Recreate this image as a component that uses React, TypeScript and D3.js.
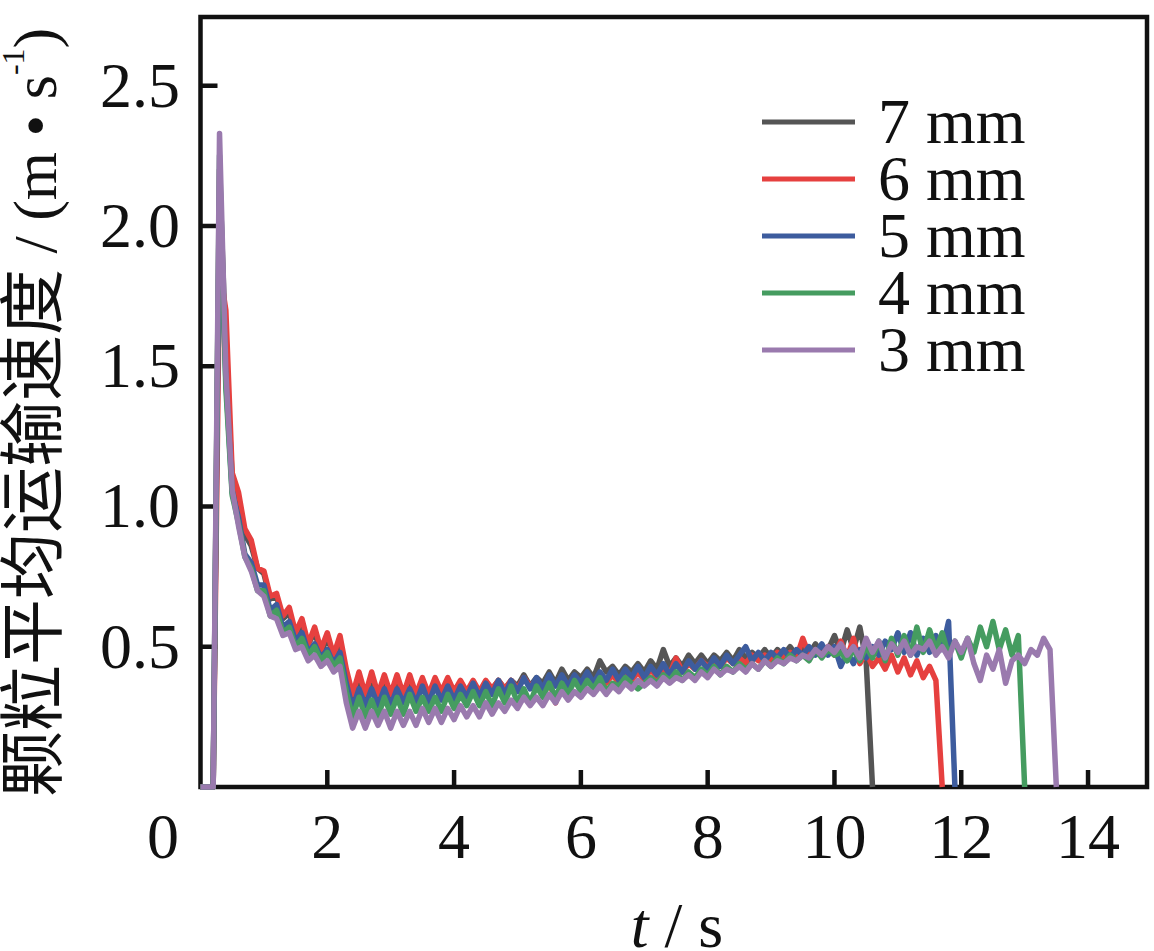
import * as d3 from 'd3'

const timeStep = 0.1

const seriesNames = ['7 mm', '6 mm', '5 mm', '4 mm', '3 mm']
const seriesColors = ['#555555', '#e6403f', '#3d5c9e', '#459c60', '#9a7aae']

// velocity (m/s) at t = 0, 0.1, 0.2, ...
const v7mm = [
  0, 0, 0, 2.2, 1.55, 1.1, 1.02, 0.9, 0.86, 0.78, 0.76, 0.67, 0.68, 0.6, 0.62, 0.55, 0.57, 0.51, 0.55, 0.48,
  0.53, 0.47, 0.52, 0.4, 0.32, 0.38, 0.32, 0.37, 0.32, 0.37, 0.32, 0.36, 0.32, 0.36, 0.32, 0.36, 0.33, 0.36, 0.33, 0.36,
  0.33, 0.36, 0.34, 0.37, 0.34, 0.37, 0.35, 0.38, 0.35, 0.38, 0.36, 0.4, 0.36, 0.39, 0.37, 0.41, 0.37, 0.42, 0.38, 0.41,
  0.39, 0.42, 0.39, 0.45, 0.41, 0.43, 0.4, 0.43, 0.41, 0.44, 0.41, 0.45, 0.42, 0.49, 0.43, 0.46, 0.43, 0.47, 0.44, 0.47,
  0.44, 0.47, 0.45, 0.48, 0.45, 0.49, 0.46, 0.48, 0.46, 0.49, 0.46, 0.49, 0.47, 0.5, 0.47, 0.5, 0.47, 0.51, 0.48, 0.49,
  0.54, 0.48, 0.56, 0.49, 0.57, 0.45, 0,
]
const v6mm = [
  0, 0, 0, 1.85, 1.7, 1.12, 1.05, 0.92, 0.88, 0.78, 0.77, 0.68, 0.69, 0.61, 0.64, 0.55, 0.6, 0.51, 0.57, 0.49,
  0.55, 0.47, 0.54, 0.42, 0.33, 0.41, 0.33, 0.41, 0.33, 0.4, 0.33, 0.4, 0.33, 0.4, 0.33, 0.39, 0.33, 0.39, 0.34, 0.39,
  0.34, 0.38, 0.34, 0.38, 0.34, 0.38, 0.35, 0.38, 0.35, 0.38, 0.35, 0.39, 0.36, 0.38, 0.34, 0.38, 0.3, 0.37, 0.35, 0.38,
  0.36, 0.39, 0.36, 0.39, 0.37, 0.4, 0.37, 0.4, 0.38, 0.41, 0.38, 0.42, 0.39, 0.42, 0.4, 0.46, 0.41, 0.44, 0.42, 0.45,
  0.43, 0.45, 0.43, 0.46, 0.44, 0.46, 0.44, 0.47, 0.45, 0.47, 0.45, 0.48, 0.46, 0.48, 0.46, 0.53, 0.47, 0.49, 0.47, 0.5,
  0.47, 0.52, 0.46, 0.53, 0.44, 0.48, 0.43, 0.46, 0.42, 0.47, 0.41, 0.46, 0.4, 0.45, 0.39, 0.43, 0.38, 0,
]
const v5mm = [
  0, 0, 0, 2.1, 1.45, 1.05, 0.96, 0.83, 0.8, 0.72, 0.72, 0.63, 0.65, 0.57, 0.59, 0.52, 0.55, 0.48, 0.51, 0.46,
  0.49, 0.44, 0.48, 0.37, 0.28, 0.35, 0.29, 0.35, 0.29, 0.35, 0.29, 0.35, 0.3, 0.35, 0.3, 0.36, 0.3, 0.36, 0.31, 0.36,
  0.31, 0.36, 0.32, 0.37, 0.32, 0.37, 0.33, 0.38, 0.33, 0.38, 0.34, 0.39, 0.35, 0.39, 0.35, 0.4, 0.36, 0.4, 0.36, 0.4,
  0.37, 0.41, 0.37, 0.41, 0.38, 0.42, 0.38, 0.42, 0.39, 0.43, 0.39, 0.43, 0.4, 0.44, 0.4, 0.44, 0.41, 0.45, 0.42, 0.45,
  0.42, 0.46, 0.43, 0.47, 0.44, 0.47, 0.5, 0.45, 0.48, 0.45, 0.48, 0.46, 0.49, 0.46, 0.49, 0.47, 0.5, 0.47, 0.51, 0.47,
  0.5, 0.43, 0.48, 0.44, 0.49, 0.46, 0.5, 0.47, 0.52, 0.49, 0.55, 0.48, 0.55, 0.47, 0.53, 0.48, 0.54, 0.49, 0.59, 0,
]
const v4mm = [
  0, 0, 0, 2.25, 1.42, 1.04, 0.94, 0.82, 0.78, 0.7, 0.7, 0.61, 0.63, 0.55, 0.57, 0.5, 0.53, 0.47, 0.5, 0.45,
  0.48, 0.43, 0.46, 0.34, 0.25, 0.32, 0.25, 0.31, 0.25, 0.32, 0.26, 0.32, 0.26, 0.33, 0.27, 0.32, 0.27, 0.32, 0.27, 0.33,
  0.28, 0.33, 0.29, 0.34, 0.29, 0.34, 0.29, 0.35, 0.3, 0.36, 0.3, 0.35, 0.3, 0.36, 0.32, 0.37, 0.32, 0.37, 0.33, 0.38,
  0.34, 0.38, 0.35, 0.39, 0.34, 0.37, 0.36, 0.39, 0.37, 0.35, 0.37, 0.39, 0.37, 0.4, 0.38, 0.41, 0.38, 0.41, 0.39, 0.42,
  0.4, 0.43, 0.4, 0.43, 0.41, 0.44, 0.42, 0.44, 0.42, 0.45, 0.43, 0.46, 0.44, 0.47, 0.45, 0.47, 0.45, 0.49, 0.46, 0.49,
  0.47, 0.48, 0.45, 0.49, 0.45, 0.5, 0.46, 0.52, 0.45, 0.53, 0.47, 0.54, 0.47, 0.57, 0.48, 0.56, 0.49, 0.55, 0.47, 0.52,
  0.46, 0.53, 0.48, 0.57, 0.5, 0.59, 0.49, 0.56, 0.47, 0.54, 0,
]
const v3mm = [
  0, 0, 0, 2.33, 1.48, 1.06, 0.93, 0.82, 0.77, 0.7, 0.68, 0.61, 0.6, 0.54, 0.55, 0.49, 0.5, 0.45, 0.47, 0.43,
  0.45, 0.41, 0.43, 0.3, 0.21, 0.27, 0.21, 0.27, 0.22, 0.27, 0.21, 0.27, 0.22, 0.27, 0.22, 0.28, 0.23, 0.28, 0.23, 0.28,
  0.24, 0.29, 0.25, 0.29, 0.25, 0.3, 0.26, 0.3, 0.27, 0.31, 0.28, 0.32, 0.29, 0.32, 0.29, 0.33, 0.3, 0.34, 0.31, 0.34,
  0.32, 0.35, 0.33, 0.36, 0.33, 0.36, 0.34, 0.37, 0.35, 0.38, 0.36, 0.38, 0.36, 0.39, 0.37, 0.39, 0.38, 0.4, 0.38, 0.41,
  0.39, 0.42, 0.4, 0.42, 0.41, 0.43, 0.41, 0.44, 0.42, 0.45, 0.43, 0.45, 0.44, 0.46, 0.45, 0.47, 0.46, 0.49, 0.47, 0.5,
  0.48, 0.51, 0.47, 0.5, 0.46, 0.53, 0.48, 0.52, 0.46, 0.51, 0.48, 0.52, 0.47, 0.5, 0.49, 0.52, 0.47, 0.5, 0.46, 0.52,
  0.48, 0.53, 0.44, 0.38, 0.47, 0.42, 0.49, 0.37, 0.45, 0.47, 0.44, 0.49, 0.47, 0.53, 0.49, 0,
]
const seriesValues = [v7mm, v6mm, v5mm, v4mm, v3mm]

const xTicks = [2, 4, 6, 8, 10, 12, 14]
const yTicks = [0.5, 1.0, 1.5, 2.0, 2.5]

const W = 1154
const H = 951
const left = 200.5
const right = 1147
const top = 17
const bottom = 787

const serif = '"Liberation Serif", "Times New Roman", serif'
const cjk = '"Noto Sans CJK SC", sans-serif'

export default function App() {
  const x = d3.scaleLinear().domain([0, 14.93]).range([left, right])
  const y = d3.scaleLinear().domain([0, 2.745]).range([bottom, top])

  const line = d3
    .line<number>()
    .x((_, i) => x(i * timeStep))
    .y((d) => y(d))

  return (
    <div style={{ position: 'absolute', left: 0, top: 0 }}>
      <svg width={W} height={H} style={{ display: 'block', background: '#fff' }}>
        {/* frame */}
        <rect x={left} y={top} width={right - left} height={bottom - top} fill="none" stroke="#111" strokeWidth={4.5} />

        {/* x ticks (inward) */}
        {xTicks.map((t) => (
          <g key={'xt' + t}>
            <line x1={x(t)} x2={x(t)} y1={bottom} y2={bottom - 17} stroke="#111" strokeWidth={4.5} />
            <text x={x(t)} y={858} textAnchor="middle" fontFamily={serif} fontSize={64} fill="#111">
              {t}
            </text>
          </g>
        ))}
        <text x={163} y={858} textAnchor="middle" fontFamily={serif} fontSize={64} fill="#111">
          0
        </text>

        {/* y ticks (inward) */}
        {yTicks.map((t) => (
          <g key={'yt' + t}>
            <line x1={left} x2={left + 17} y1={y(t)} y2={y(t)} stroke="#111" strokeWidth={4.5} />
            <text x={180} y={y(t) + 21} textAnchor="end" fontFamily={serif} fontSize={64} fill="#111">
              {t.toFixed(1)}
            </text>
          </g>
        ))}

        {/* series */}
        {seriesValues.map((vals, k) => (
          <path
            key={seriesNames[k]}
            d={line(vals) ?? ''}
            fill="none"
            stroke={seriesColors[k]}
            strokeWidth={5.5}
            strokeLinejoin="round"
          />
        ))}

        {/* legend */}
        {seriesNames.map((name, k) => {
          const ly = 122 + k * 57
          return (
            <g key={'lg' + name}>
              <line x1={762} x2={855} y1={ly} y2={ly} stroke={seriesColors[k]} strokeWidth={5} />
              <text x={878} y={ly + 21} fontFamily={serif} fontSize={64} fill="#111">
                {name}
              </text>
            </g>
          )
        })}

        {/* axis titles */}
        <text x={677} y={947} textAnchor="middle" fontFamily={serif} fontSize={64} fill="#111">
          <tspan fontStyle="italic">t</tspan>
          <tspan> / s</tspan>
        </text>
        <text transform="translate(56,797) rotate(-90)" fontSize={66} fill="#111">
          <tspan fontFamily={cjk}>颗粒平均运输速度</tspan>
          <tspan fontFamily={serif} fontSize={62}> / (m • s</tspan>
          <tspan fontFamily={serif} fontSize={32} dy={-32}>
            -1
          </tspan>
          <tspan fontFamily={serif} fontSize={62} dy={32}>
            )
          </tspan>
        </text>
      </svg>
    </div>
  )
}
